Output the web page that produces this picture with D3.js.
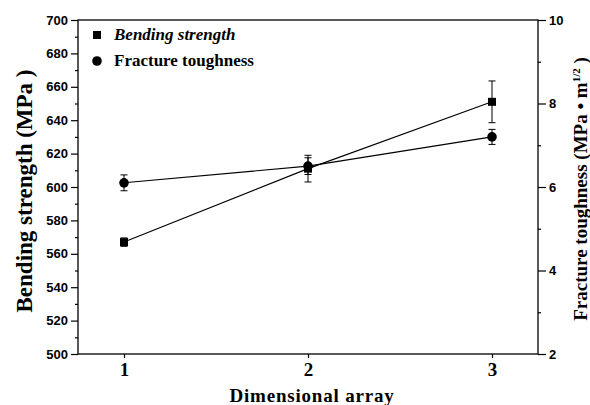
<!DOCTYPE html>
<html><head><meta charset="utf-8">
<script src="https://cdn.jsdelivr.net/npm/d3@7"></script>
<style>body{margin:0;background:#fff}svg{display:block}</style>
</head><body>
<script>
const categories = [1, 2, 3];
const bendingStrength = [567, 611, 651];
const bendingErr = [2.5, 8, 12.5];
const fractureToughness = [6.1, 6.5, 7.2];
const fractureErr = [0.19, 0.2, 0.18];
const leftTicks = [500, 520, 540, 560, 580, 600, 620, 640, 660, 680, 700];
const rightTicks = [2, 4, 6, 8, 10];

const W = 590, H = 405;
const m = {l: 78, r: 52, t: 20, b: 51};
const svg = d3.select("body").append("svg").attr("width", W).attr("height", H);
const x = d3.scaleLinear().domain([0.75, 3.25]).range([m.l, W - m.r]);
const yL = d3.scaleLinear().domain([500, 700]).range([H - m.b, m.t]);
const yR = d3.scaleLinear().domain([2, 10]).range([H - m.b, m.t]);

const sans = "'Liberation Sans', Arial, sans-serif";
const serif = "'Liberation Serif', 'Times New Roman', serif";

// frame
svg.append("rect").attr("x", m.l).attr("y", m.t).attr("width", W - m.r - m.l).attr("height", H - m.b - m.t)
  .attr("fill", "none").attr("stroke", "#000").attr("stroke-width", 1.3);

// left axis
const gL = svg.append("g").attr("transform", `translate(${m.l},0)`);
gL.call(d3.axisLeft(yL).tickValues(leftTicks).tickSize(7).tickPadding(3));
gL.append("g").call(d3.axisLeft(yL).tickValues(d3.range(510, 700, 20)).tickSize(3).tickFormat(""));
// right axis
const gR = svg.append("g").attr("transform", `translate(${W - m.r},0)`);
gR.call(d3.axisRight(yR).tickValues(rightTicks).tickSize(8).tickPadding(3).tickFormat(d3.format("d")));
gR.append("g").call(d3.axisRight(yR).tickValues([3, 5, 7, 9]).tickSize(3).tickFormat(""));
// bottom axis
const gB = svg.append("g").attr("transform", `translate(0,${H - m.b})`);
gB.call(d3.axisBottom(x).tickValues(categories).tickSize(4).tickPadding(5).tickFormat(d3.format("d")));

[gL, gR, gB].forEach(g => { g.selectAll(".domain").remove(); g.selectAll("line").attr("stroke", "#000").attr("stroke-width", 1.2); });
gL.selectAll("text").attr("font-family", sans).attr("font-weight", "bold").attr("font-size", 13).attr("fill", "#000");
gR.selectAll("text").attr("font-family", sans).attr("font-weight", "bold").attr("font-size", 13).attr("fill", "#000");
gB.selectAll("text").attr("font-family", serif).attr("font-weight", "bold").attr("font-size", 19).attr("fill", "#000");

// axis titles
svg.append("text").attr("transform", `translate(32,${(m.t + H - m.b) / 2 + 4}) rotate(-90)`)
  .attr("text-anchor", "middle").attr("font-family", serif).attr("font-weight", "bold").attr("font-size", 23)
  .text("Bending strength (MPa )");
const rt = svg.append("text").attr("transform", `translate(587,${(m.t + H - m.b) / 2 + 2}) rotate(-90)`)
  .attr("text-anchor", "middle").attr("font-family", serif).attr("font-weight", "bold").attr("font-size", 19);
rt.append("tspan").text("Fracture toughness (MPa \u2022 m");
rt.append("tspan").attr("font-size", 11).attr("dy", -7).text("1/2");
rt.append("tspan").attr("dy", 7).text(" )");
svg.append("text").attr("x", 312).attr("y", 402).attr("text-anchor", "middle")
  .attr("font-family", serif).attr("font-weight", "bold").attr("font-size", 19).attr("letter-spacing", 0.8)
  .text("Dimensional array");

// series
const bData = categories.map((c, i) => ({x: c, y: bendingStrength[i], e: bendingErr[i]}));
const fData = categories.map((c, i) => ({x: c, y: fractureToughness[i], e: fractureErr[i]}));

function drawSeries(data, y, shape) {
  const g = svg.append("g");
  g.append("path").datum(data).attr("fill", "none").attr("stroke", "#000").attr("stroke-width", 1.1)
    .attr("d", d3.line().x(d => x(d.x)).y(d => y(d.y)));
  const eb = g.selectAll(".eb").data(data).enter().append("g");
  eb.append("line").attr("x1", d => x(d.x)).attr("x2", d => x(d.x)).attr("y1", d => y(d.y - d.e)).attr("y2", d => y(d.y + d.e)).attr("stroke", "#000").attr("stroke-width", 1);
  [-1, 1].forEach(s => eb.append("line").attr("x1", d => x(d.x) - 3.5).attr("x2", d => x(d.x) + 3.5)
    .attr("y1", d => y(d.y + s * d.e)).attr("y2", d => y(d.y + s * d.e)).attr("stroke", "#000").attr("stroke-width", 1));
  if (shape === "square") {
    g.selectAll(".m").data(data).enter().append("rect").attr("x", d => x(d.x) - 4).attr("y", d => y(d.y) - 4)
      .attr("width", 8).attr("height", 8).attr("fill", "#000");
  } else {
    g.selectAll(".m").data(data).enter().append("circle").attr("cx", d => x(d.x)).attr("cy", d => y(d.y)).attr("r", 4.8).attr("fill", "#000");
  }
}
drawSeries(bData, yL, "square");
drawSeries(fData, yR, "circle");

// legend
svg.append("rect").attr("x", 93).attr("y", 31).attr("width", 8).attr("height", 8).attr("fill", "#000");
svg.append("text").attr("x", 114).attr("y", 40).attr("font-family", serif).attr("font-weight", "bold").attr("font-style", "italic").attr("font-size", 17).text("Bending strength");
svg.append("circle").attr("cx", 97).attr("cy", 61).attr("r", 4.8).attr("fill", "#000");
svg.append("text").attr("x", 114).attr("y", 66).attr("font-family", serif).attr("font-weight", "bold").attr("font-size", 17).text("Fracture toughness");
</script>
</body></html>
